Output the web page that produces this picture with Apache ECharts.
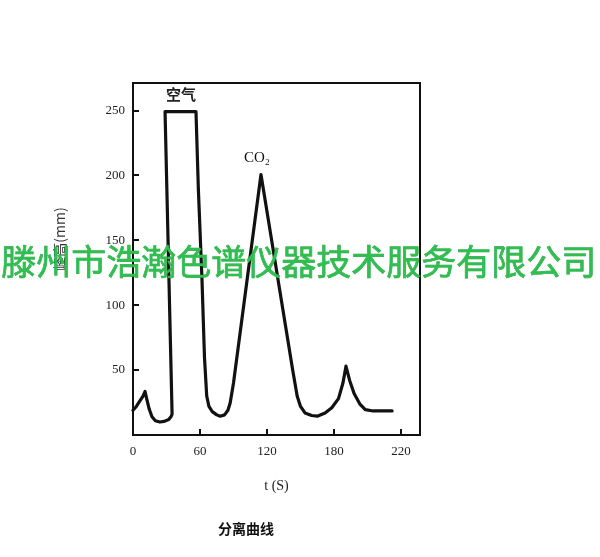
<!DOCTYPE html>
<html><head><meta charset="utf-8">
<script src="https://cdn.jsdelivr.net/npm/echarts@6/dist/echarts.min.js"></script>
<style>html,body{margin:0;padding:0;background:#fff}#c{width:600px;height:557px}</style>
</head><body><div id="c"></div>
<script>
// t (s) and peak height (mm)
const timeS = [0, 3, 6, 9, 10.8, 12.5, 14.5, 17, 20, 24, 28, 32, 34, 35, 28.7, 40, 56.4, 58.5, 61.8, 64, 66, 68, 71, 75, 78, 82, 85, 87, 90, 114.6, 143, 147, 150, 154, 160, 165, 172, 178, 184, 188, 190.7, 194, 198, 203, 208, 215, 232];
const heightMm = [19, 22, 26, 30, 33.5, 27, 20, 14, 11, 10, 10.5, 12, 14, 16, 249, 249, 249, 190, 119, 60, 30, 22, 18, 15.5, 14.5, 15.5, 19, 24.6, 40, 200.5, 50, 30, 22, 17, 15, 14.5, 17, 21, 28, 40, 53, 42, 32, 24, 19.5, 18.5, 18.5];
const xTickValues = [0, 60, 120, 180, 240];
const xTickLabels = ['0', '60', '120', '180', '220'];
const yTickLabels = ['', '50', '100', '150', '200', '250'];
const peakNames = ['空气', 'CO₂'];

const chart = echarts.init(document.getElementById('c'));
const serif = '"Liberation Serif","DejaVu Serif",serif';
chart.setOption({
  animation: false,
  grid: {left: 133, right: 180, top: 83, bottom: 122, show: true, borderColor: '#111', borderWidth: 2, backgroundColor: 'transparent'},
  xAxis: {
    type: 'value', min: 0, max: 257, interval: 60,
    axisLine: {lineStyle: {color: '#111', width: 2}},
    axisTick: {inside: true, length: 6, lineStyle: {color: '#111', width: 2}},
    splitLine: {show: false},
    axisLabel: {color: '#222', fontFamily: serif, fontSize: 13, margin: 10, showMaxLabel: false,
      formatter: v => { const i = xTickValues.indexOf(v); return i >= 0 ? xTickLabels[i] : ''; }},
    name: 't (S)', nameLocation: 'middle', nameGap: 44,
    nameTextStyle: {color: '#222', fontFamily: serif, fontSize: 14}
  },
  yAxis: {
    type: 'value', min: 0, max: 271, interval: 50,
    axisLine: {lineStyle: {color: '#111', width: 2}},
    axisTick: {inside: true, length: 6, lineStyle: {color: '#111', width: 2}},
    splitLine: {show: false},
    axisLabel: {color: '#222', fontFamily: serif, fontSize: 13, margin: 8, showMaxLabel: false,
      formatter: v => (v % 50 === 0 ? (yTickLabels[v / 50] || '') : '')},
    name: '峰高(mm)', nameLocation: 'middle', nameGap: 66, nameRotate: 90,
    nameTextStyle: {color: '#333', fontFamily: '"Noto Sans CJK SC",sans-serif', fontSize: 14, padding: [0, 0, 0, 40]}
  },
  series: [{
    type: 'line', data: timeS.map((t, i) => [t, heightMm[i]]),
    showSymbol: false, smooth: false,
    lineStyle: {color: '#111', width: 3.2, join: 'round', cap: 'round'}
  }],
  graphic: [
    {type: 'text', left: 166, top: 87, style: {text: peakNames[0], font: 'bold 15px "Noto Sans CJK SC"', fill: '#222'}},
    {type: 'text', left: 244, top: 151, style: {text: peakNames[1], font: '15px ' + serif, fill: '#111'}},
    {type: 'text', left: 1, top: 244, z: 100, style: {text: '滕州市浩瀚色谱仪器技术服务有限公司', font: '35px "Noto Sans CJK SC"', fill: '#2fbf4f', stroke: '#1a9a3a', lineWidth: 0.6}},
    {type: 'text', left: 218, top: 522, style: {text: '分离曲线', font: 'bold 14px "Noto Sans CJK SC"', fill: '#111'}}
  ]
});
</script></body></html>
